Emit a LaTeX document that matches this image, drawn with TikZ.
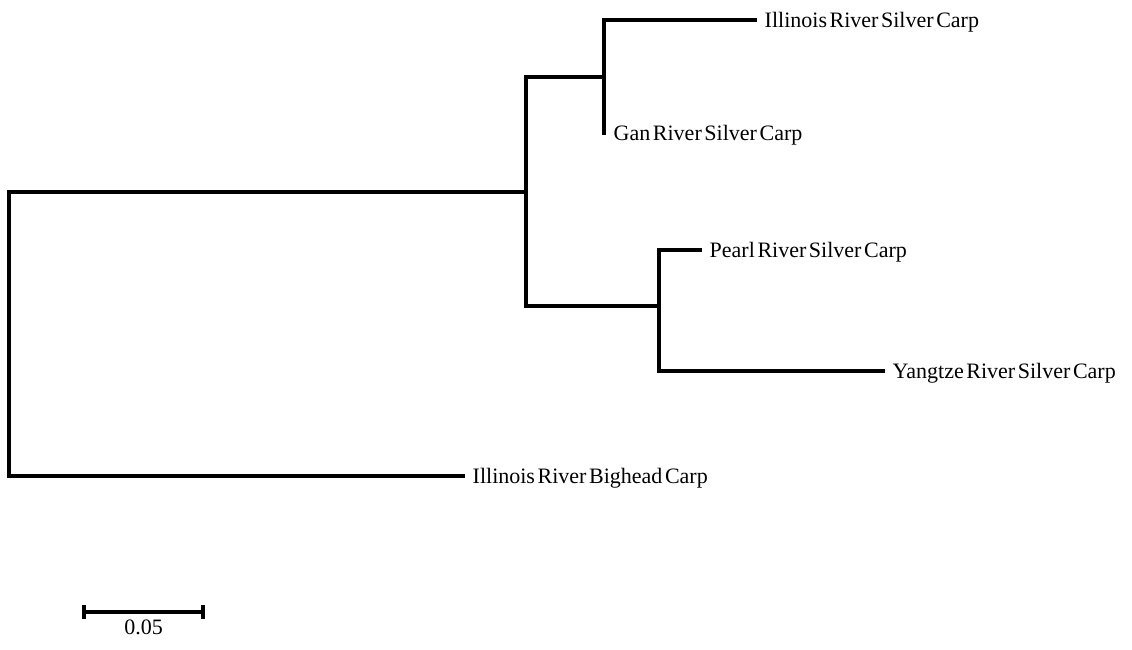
\documentclass[tikz,border=0pt]{standalone}
\usepackage{fontspec}
\setmainfont{Liberation Serif}
\newcommand\labfont{\fontsize{22}{24}\selectfont}
\newcommand\tightsp{\spaceskip=2.6pt plus 0.5pt\relax}
\begin{document}
\begin{tikzpicture}[x=1pt,y=-1pt,
  branch/.style={line width=3.2pt,line join=miter,line cap=butt},
  leaflabel/.style={anchor=west,inner sep=0pt,xshift=7.5pt,text height=14.5pt,text depth=0pt,font=\labfont},
  scalelabel/.style={inner sep=0pt,text height=14.8pt,text depth=0pt,font=\labfont}]
\useasboundingbox (0,0) rectangle (1132,650);
% internal nodes
\coordinate (root) at (9,334);
\coordinate (n1) at (526,192);
\coordinate (n2) at (604,77);
\coordinate (n3) at (659,306);
% leaves
\coordinate (ill) at (757,20);
\coordinate (gan) at (606,133);
\coordinate (pearl) at (702,250);
\coordinate (yang) at (885,371);
\coordinate (big) at (465,476);
\draw[branch] (root) |- (n1);
\draw[branch] (root) |- (big);
\draw[branch] (n1) |- (n2);
\draw[branch] (n1) |- (n3);
\draw[branch] (n2) |- (ill);
\draw[branch] (n2) |- (gan);
\draw[branch] (n3) |- (pearl);
\draw[branch] (n3) |- (yang);
\node[leaflabel] (lill) at (ill) {\tightsp Illinois River Silver Carp};
\node[leaflabel] (lgan) at (gan) {\tightsp Gan River Silver Carp};
\node[leaflabel] (lpearl) at (pearl) {\tightsp Pearl River Silver Carp};
\node[leaflabel] (lyang) at (yang) {\tightsp Yangtze River Silver Carp};
\node[leaflabel] (lbig) at (big) {\tightsp Illinois River Bighead Carp};
% scale bar
\coordinate (sa) at (84,612);
\coordinate (sb) at (203,612);
\draw[branch] (sa) -- (sb);
\draw[line width=3.2pt] ([yshift=-7pt]sa) -- ([yshift=7pt]sa);
\draw[line width=3.2pt] ([yshift=-7pt]sb) -- ([yshift=7pt]sb);
\node[scalelabel] (slabel) at (143.5,627.5) {0.05};
\end{tikzpicture}
\end{document}
